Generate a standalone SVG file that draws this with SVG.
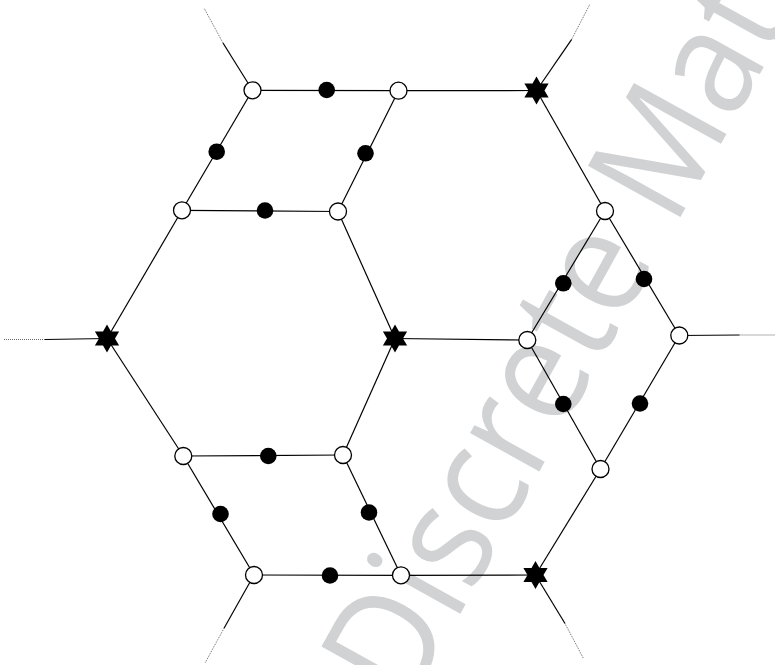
<svg xmlns="http://www.w3.org/2000/svg" width="775" height="665" viewBox="0 0 775 665">
<style>
.e{stroke:#000;stroke-width:1.2;fill:none}
.d{stroke:#666;stroke-width:1;stroke-dasharray:1 1;fill:none}
.w{fill:#fff;stroke:#000;stroke-width:1.3}
.b{fill:#000}
.wm{fill:#d1d2d4;font-family:"Open Sans","Liberation Sans",sans-serif;font-size:148px}
</style>
<defs>
<path id="star" d="M0,-14 L4,-6.93 L12.12,-7 L8,0 L12.12,7 L4,6.93 L0,14 L-4,6.93 L-12.12,7 L-8,0 L-12.12,-7 L-4,-6.93 Z"/>
</defs>
<rect width="775" height="665" fill="#fff"/>
<text class="wm" transform="translate(407.5,709.3) rotate(-61) scale(0.91,1)">Discrete Mat</text>
<g id="connectors">
<line class="e" x1="252.5" y1="90.3" x2="398.5" y2="90.7"/>
<line class="e" x1="252.5" y1="90.3" x2="182" y2="210.3"/>
<line class="e" x1="398.5" y1="90.7" x2="338" y2="211.5"/>
<line class="e" x1="182" y1="210.3" x2="338" y2="211.5"/>
<line class="e" x1="398.5" y1="90.7" x2="536.5" y2="90.5"/>
<line class="e" x1="536.5" y1="90.5" x2="605" y2="211"/>
<line class="e" x1="605" y1="211" x2="527.3" y2="340"/>
<line class="e" x1="605" y1="211" x2="679.3" y2="335.5"/>
<line class="e" x1="527.3" y1="340" x2="600.5" y2="469"/>
<line class="e" x1="679.3" y1="335.5" x2="600.5" y2="469"/>
<line class="e" x1="600.5" y1="469" x2="535.5" y2="575"/>
<line class="e" x1="535.5" y1="575" x2="401" y2="575.3"/>
<line class="e" x1="401" y1="575.3" x2="254" y2="575"/>
<line class="e" x1="254" y1="575" x2="183.3" y2="456"/>
<line class="e" x1="183.3" y1="456" x2="343" y2="455"/>
<line class="e" x1="343" y1="455" x2="401" y2="575.3"/>
<line class="e" x1="183.3" y1="456" x2="107" y2="338.5"/>
<line class="e" x1="107" y1="338.5" x2="182" y2="210.3"/>
<line class="e" x1="338" y1="211.5" x2="395" y2="338.5"/>
<line class="e" x1="395" y1="338.5" x2="343" y2="455"/>
<line class="e" x1="395" y1="338.5" x2="527.3" y2="340"/>
<line class="e" x1="252.5" y1="90.3" x2="223" y2="43"/>
<line class="d" x1="223" y1="43" x2="204" y2="8"/>
<line class="e" x1="536.5" y1="90.5" x2="571.7" y2="39.3"/>
<line class="d" x1="571.7" y1="39.3" x2="590" y2="4"/>
<line class="e" x1="107" y1="338.5" x2="45" y2="339.5"/>
<line class="d" x1="45" y1="339.5" x2="4" y2="339.5"/>
<line class="e" x1="679.3" y1="335.5" x2="739.5" y2="335"/>
<line class="d" x1="739.5" y1="335" x2="775" y2="335"/>
<line class="e" x1="254" y1="575" x2="224" y2="628.3"/>
<line class="d" x1="224" y1="628.3" x2="205" y2="663"/>
<line class="e" x1="535.5" y1="575" x2="565" y2="623.5"/>
<line class="d" x1="565" y1="623.5" x2="583.5" y2="658.5"/>
</g>
<g id="A"><circle class="w" cx="252.5" cy="90.3" r="8.5"/></g>
<g id="B"><circle class="w" cx="398.5" cy="90.7" r="8.5"/></g>
<g id="C"><circle class="w" cx="182" cy="210.3" r="8.5"/></g>
<g id="D"><circle class="w" cx="338" cy="211.5" r="8.5"/></g>
<g id="E"><circle class="w" cx="605" cy="211" r="8.5"/></g>
<g id="F"><circle class="w" cx="527.3" cy="340" r="8.5"/></g>
<g id="G"><circle class="w" cx="679.3" cy="335.5" r="8.5"/></g>
<g id="H"><circle class="w" cx="183.3" cy="456" r="8.5"/></g>
<g id="I"><circle class="w" cx="343" cy="455" r="8.5"/></g>
<g id="J"><circle class="w" cx="600.5" cy="469" r="8.5"/></g>
<g id="K"><circle class="w" cx="254" cy="575" r="8.5"/></g>
<g id="L"><circle class="w" cx="401" cy="575.3" r="8.5"/></g>
<g id="S1"><use href="#star" x="536.5" y="90.5"/></g>
<g id="S2"><use href="#star" x="107" y="338.5"/></g>
<g id="S3"><use href="#star" x="395" y="338.5"/></g>
<g id="S4"><use href="#star" x="535.5" y="575"/></g>
<g id="b1"><circle class="b" cx="326.7" cy="90" r="8.3"/></g>
<g id="b2"><circle class="b" cx="216.7" cy="151.7" r="8.3"/></g>
<g id="b3"><circle class="b" cx="365.5" cy="153.3" r="8.3"/></g>
<g id="b4"><circle class="b" cx="265" cy="210.5" r="8.3"/></g>
<g id="b5"><circle class="b" cx="563.3" cy="283.3" r="8.3"/></g>
<g id="b6"><circle class="b" cx="644" cy="279" r="8.3"/></g>
<g id="b7"><circle class="b" cx="563.3" cy="404" r="8.3"/></g>
<g id="b8"><circle class="b" cx="640" cy="403.5" r="8.3"/></g>
<g id="b9"><circle class="b" cx="268.3" cy="456" r="8.3"/></g>
<g id="b10"><circle class="b" cx="220.5" cy="514" r="8.3"/></g>
<g id="b11"><circle class="b" cx="369" cy="512.5" r="8.3"/></g>
<g id="b12"><circle class="b" cx="330" cy="575.5" r="8.3"/></g>
</svg>
